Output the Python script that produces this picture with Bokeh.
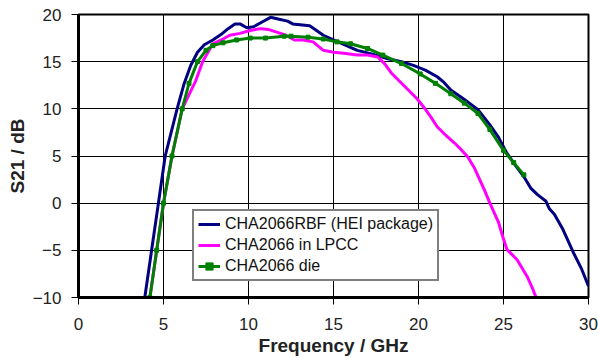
from bokeh.plotting import figure
from bokeh.models import Range1d, Legend, LegendItem, FixedTicker
from bokeh.embed import file_html
from bokeh.resources import INLINE

# CHA2066RBF (HEI package)
blue_f = [3.9, 4.3, 4.7, 5.1, 5.8, 6.2, 6.6, 7.0, 7.4, 7.9, 8.4, 8.8, 9.2, 9.5, 9.9, 10.3, 10.8,
          11.3, 11.8, 12.3, 12.6, 13.6, 14.4, 15.4, 16.4, 17.3, 18.2, 19.0, 19.7, 20.4, 21.1, 21.5,
          21.9, 22.7, 23.5, 24.2, 24.7, 25.2, 25.7, 26.2, 26.6, 27.0, 27.5, 27.7, 28.0, 28.5,
          29.1, 29.6, 30.0]
blue_db = [-10, -5, 0, 5, 10, 12.6, 14.6, 16.0, 16.8, 17.3, 17.9, 18.5, 19.0, 19.0, 18.6, 18.7, 19.2,
           19.7, 19.5, 19.3, 19.0, 18.8, 17.8, 17.0, 16.2, 15.8, 15.3, 15.0, 14.6, 14.1, 13.4, 12.8,
           12.0, 11.0, 9.9, 8.3, 7.0, 5.3, 4.0, 2.8, 1.6, 0.9, 0.2, -0.6, -1.2, -2.8,
           -5.2, -7.0, -8.8]

# CHA2066 in LPCC
mag_f = [4.2, 4.6, 5.0, 5.5, 6.1, 6.9, 7.3, 7.9, 8.5, 8.9, 9.5, 10.1, 10.7, 11.2, 11.7, 12.2,
         12.7, 13.2, 13.8, 14.4, 15.0, 15.6, 16.4, 17.0, 17.6, 18.0, 18.4, 18.9, 19.4, 19.9,
         20.3, 20.7, 21.1, 21.6, 22.1, 22.5, 22.9, 23.3, 23.6, 23.9, 24.2, 24.7, 25.0, 25.2,
         25.8, 26.4, 26.7, 27.0]
mag_db = [-10, -5, 0, 5, 10, 13, 15, 16.9, 17.4, 17.8, 18.0, 18.3, 18.5, 18.4, 18.1, 17.8,
          17.3, 17.3, 17.1, 16.2, 16.0, 15.9, 15.7, 15.7, 15.5, 14.8, 13.8, 12.9, 12.0, 11.1,
          10.2, 9.2, 8.1, 7.2, 6.4, 5.7, 4.9, 3.7, 2.5, 1.3, 0.0, -2.0, -3.8, -4.9,
          -6.0, -7.8, -9.0, -10.4]

# CHA2066 die
green_f = [4.2, 4.6, 5.0, 5.5, 6.1, 6.5, 7.0, 7.5, 7.9, 8.5, 9.3, 10.1, 11.0, 12.1, 12.5, 13.5,
           14.4, 15.2, 16.0, 17.0, 17.9, 19.0, 20.1, 21.0, 21.9, 22.7, 23.5, 24.2, 25.0, 25.6,
           26.2]
green_db = [-10, -5, 0, 5, 10, 12.7, 15, 16.2, 16.7, 17.0, 17.3, 17.5, 17.5, 17.7, 17.7, 17.6,
            17.4, 17.1, 16.9, 16.4, 15.7, 14.8, 13.7, 12.7, 11.6, 10.6, 9.5, 7.8, 5.6, 4.3,
            3.0]

x_ticks = [0, 5, 10, 15, 20, 25, 30]
y_ticks = [-10, -5, 0, 5, 10, 15, 20]

p = figure(width=598, height=358, output_backend="svg", toolbar_location=None,
           x_range=Range1d(0, 30), y_range=Range1d(-10, 20),
           min_border_left=78, min_border_right=10, min_border_top=14, min_border_bottom=60)
p.background_fill_color = "white"
p.border_fill_color = "white"
p.outline_line_color = "black"
p.outline_line_width = 2

for ax in (p.xaxis[0], p.yaxis[0]):
    ax.axis_line_color = "black"
    ax.axis_line_width = 3
    ax.major_tick_line_color = "black"
    ax.major_tick_line_width = 1
    ax.major_tick_out = 7
    ax.major_tick_in = 0
    ax.minor_tick_line_color = None
    ax.major_label_text_font = "Liberation Sans"
    ax.major_label_text_font_size = "17px"
    ax.major_label_text_color = "#222222"
    ax.axis_label_text_font = "Liberation Sans"
    ax.axis_label_text_font_size = "19px"
    ax.axis_label_text_font_style = "bold"
    ax.axis_label_text_color = "#222222"
    ax.axis_label_standoff = 2

p.xaxis[0].major_label_standoff = 13
p.yaxis[0].major_label_standoff = 10

p.xaxis.ticker = FixedTicker(ticks=x_ticks)
p.yaxis.ticker = FixedTicker(ticks=y_ticks)
p.xaxis.axis_label = "Frequency / GHz"
p.yaxis.axis_label = "S21 / dB"

p.xgrid.ticker = FixedTicker(ticks=x_ticks)
p.ygrid.ticker = FixedTicker(ticks=y_ticks)
for g in (p.xgrid[0], p.ygrid[0]):
    g.grid_line_color = "black"
    g.grid_line_width = 1
    g.grid_line_alpha = 1.0

r_blue = p.line(blue_f, blue_db, line_color="#000080", line_width=3)
r_mag = p.line(mag_f, mag_db, line_color="#FF00FF", line_width=3)
r_green = p.line(green_f, green_db, line_color="#008000", line_width=3)
r_green_m = p.scatter(green_f, green_db, marker="square", size=4,
                      fill_color="#008000", line_color="#008000")

legend = Legend(items=[
    LegendItem(label="CHA2066RBF (HEI package)", renderers=[r_blue]),
    LegendItem(label="CHA2066 in LPCC", renderers=[r_mag]),
    LegendItem(label="CHA2066 die", renderers=[r_green, r_green_m]),
], location=(114, 16))
legend.border_line_color = "black"
legend.border_line_width = 2
legend.background_fill_color = "white"
legend.background_fill_alpha = 1.0
legend.label_text_font = "Liberation Sans"
legend.label_text_font_size = "16px"
legend.label_text_color = "#111111"
legend.glyph_width = 22
legend.glyph_height = 18
legend.label_height = 18
legend.label_standoff = 5
legend.spacing = 3
legend.padding = 4
legend.margin = 0
p.add_layout(legend, "center")

open("out.html", "w").write(file_html(p, INLINE))
